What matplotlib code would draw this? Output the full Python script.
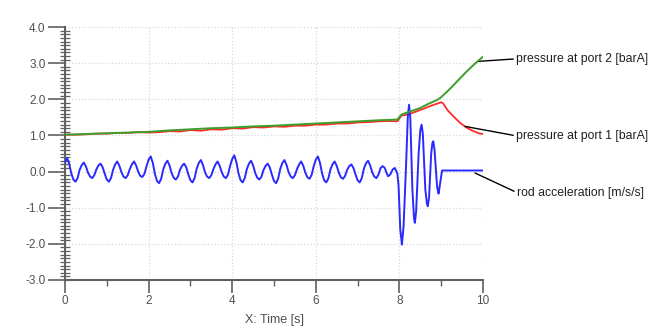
import matplotlib
matplotlib.use("Agg")
import numpy as np
import matplotlib.pyplot as plt
from matplotlib.ticker import MultipleLocator, FormatStrFormatter

plt.rcParams['font.family'] = ['Liberation Sans', 'DejaVu Sans']

# pressure at port 2 [barA]
p2_t = [0.0, 0.5, 1.0, 1.5, 2.0, 2.5, 3.0, 3.5, 4.0, 4.5, 5.0, 5.5, 6.0, 6.5,
        7.0, 7.5, 7.95, 8.05, 8.3, 8.5, 8.7, 8.9, 9.0, 9.2, 9.4, 9.6, 9.8, 10.0]
p2_v = [1.02, 1.04, 1.06, 1.08, 1.10, 1.14, 1.17, 1.20, 1.22, 1.25, 1.27, 1.30, 1.33, 1.36,
        1.39, 1.42, 1.44, 1.58, 1.68, 1.76, 1.88, 1.98, 2.06, 2.28, 2.52, 2.76, 2.98, 3.18]

# pressure at port 1 [barA]
p1_t = [0.0, 0.25, 0.5, 0.75, 1.0, 1.25, 1.5, 1.75, 2.0, 2.25, 2.5, 2.75, 3.0, 3.25,
        3.5, 3.75, 4.0, 4.25, 4.5, 4.75, 5.0, 5.25, 5.5, 5.75, 6.0, 6.25, 6.5, 6.75,
        7.0, 7.25, 7.5, 7.75, 7.95, 8.05, 8.2, 8.4, 8.6, 8.75, 8.9, 9.0, 9.05, 9.15,
        9.3, 9.45, 9.6, 9.75, 9.9, 10.0]
p1_v = [1.02, 1.02, 1.03, 1.05, 1.05, 1.07, 1.07, 1.09, 1.08, 1.09, 1.12, 1.11, 1.15, 1.13,
        1.17, 1.16, 1.20, 1.19, 1.23, 1.22, 1.25, 1.24, 1.27, 1.27, 1.30, 1.30, 1.33, 1.33,
        1.36, 1.37, 1.39, 1.40, 1.39, 1.55, 1.58, 1.66, 1.75, 1.82, 1.88, 1.92, 1.88, 1.70,
        1.52, 1.35, 1.22, 1.13, 1.06, 1.04]

# rod acceleration [m/s/s], sampled every 0.05 s up to 7.55 s
acc_steady = [
    0.25, 0.38, 0.22, -0.05, -0.22, -0.28, -0.18, 0.05,
    0.18, 0.25, 0.14, -0.03, -0.14, -0.18, -0.10, 0.06,
    0.17, 0.22, 0.12, -0.06, -0.22, -0.28, -0.18, 0.05,
    0.20, 0.28, 0.16, -0.02, -0.14, -0.18, -0.10, 0.07,
    0.20, 0.28, 0.17, 0.00, -0.12, -0.15, -0.06, 0.15,
    0.33, 0.42, 0.24, -0.06, -0.26, -0.32, -0.20, 0.06,
    0.22, 0.30, 0.17, -0.04, -0.17, -0.22, -0.14, 0.05,
    0.16, 0.22, 0.12, -0.08, -0.24, -0.30, -0.18, 0.08,
    0.24, 0.32, 0.18, -0.02, -0.14, -0.18, -0.10, 0.07,
    0.20, 0.28, 0.16, -0.02, -0.14, -0.18, -0.08, 0.16,
    0.35, 0.45, 0.26, -0.05, -0.24, -0.30, -0.18, 0.07,
    0.22, 0.30, 0.17, -0.04, -0.17, -0.22, -0.14, 0.05,
    0.16, 0.22, 0.11, -0.09, -0.26, -0.32, -0.19, 0.08,
    0.24, 0.32, 0.18, -0.02, -0.14, -0.18, -0.10, 0.07,
    0.20, 0.28, 0.16, -0.03, -0.16, -0.20, -0.09, 0.15,
    0.33, 0.42, 0.24, -0.05, -0.24, -0.30, -0.19, 0.06,
    0.20, 0.28, 0.16, -0.03, -0.16, -0.20, -0.12, 0.05,
    0.15, 0.20, 0.10, -0.08, -0.24, -0.30, -0.18, 0.08,
    0.23, 0.30, 0.17, -0.02, -0.14, -0.18, -0.08, 0.10,
]
acc_steady_t = np.round(np.arange(len(acc_steady)) * 0.05, 2)

# end of stroke: short ringing, then the rod stops
acc_end_t = [7.60, 7.65, 7.70, 7.73, 7.78, 7.84, 7.89, 7.95, 7.98, 8.02, 8.06, 8.10,
             8.16, 8.20, 8.23, 8.26, 8.31, 8.35, 8.37, 8.40, 8.46, 8.50, 8.53, 8.56,
             8.62, 8.66, 8.68, 8.71, 8.76, 8.79, 8.81, 8.84, 8.90, 8.93, 8.94, 8.97,
             9.02, 10.0]
acc_end_v = [0.15, 0.10, -0.06, -0.13, -0.08, 0.06, 0.10, -0.05, -0.40, -1.60, -2.02, -1.50,
             0.20, 1.50, 1.85, 1.50, -0.50, -1.30, -1.42, -1.10, 0.50, 1.15, 1.30, 1.05,
             -0.50, -0.90, -0.96, -0.70, 0.50, 0.80, 0.84, 0.60, -0.40, -0.60, -0.61, -0.35,
             0.03, 0.03]

labels = ['pressure at port 2 [barA]', 'pressure at port 1 [barA]', 'rod acceleration [m/s/s]']
label_from = [(9.88, 3.05), (9.57, 1.25), (9.81, -0.04)]
label_at = [(10.79, 3.12), (10.79, 0.99), (10.81, -0.58)]

fig = plt.figure(figsize=(6.69, 3.34), dpi=100)
ax = fig.add_axes([0.0972, 0.1617, 0.6248, 0.7573])

acc_t = list(acc_steady_t) + acc_end_t
acc_v = acc_steady + acc_end_v

ax.plot(p1_t, p1_v, color='#ff2a2a', lw=1.3, zorder=3)
ax.plot(p2_t, p2_v, color='#3c9e2a', lw=1.4, zorder=4)
ax.plot(acc_t, acc_v, color='#2a2aff', lw=1.4, zorder=3)

for txt, xy, xyt in zip(labels, label_from, label_at):
    ax.annotate(txt, xy=xy, xytext=xyt, textcoords='data', annotation_clip=False,
                ha='left', va='center', fontsize=8.8, color='#202020',
                arrowprops=dict(arrowstyle='-', color='black', lw=1.0,
                                shrinkA=0, shrinkB=0, relpos=(0, 0.5)))

ax.set_xlim(0, 10)
ax.set_ylim(-3, 4)
ax.xaxis.set_major_locator(MultipleLocator(2))
ax.xaxis.set_minor_locator(MultipleLocator(1))
ax.yaxis.set_major_locator(MultipleLocator(1))
ax.yaxis.set_minor_locator(MultipleLocator(0.1))
ax.yaxis.set_major_formatter(FormatStrFormatter('%.1f'))

ax.grid(True, which='major', color='#d8d8d8', linestyle=':', lw=0.9)
ax.set_axisbelow(True)

for s in ['top', 'right']:
    ax.spines[s].set_visible(False)
for s in ['left', 'bottom']:
    ax.spines[s].set_color('#606060')
    ax.spines[s].set_linewidth(1.5)

ax.tick_params(axis='y', which='major', direction='out', length=12, width=1.2,
               color='#606060', labelsize=8.5, labelcolor='#505050', pad=2)
ax.tick_params(axis='y', which='minor', direction='inout', length=7, width=0.9, color='#606060')
ax.tick_params(axis='x', which='major', direction='out', length=9, width=1.2,
               color='#606060', labelsize=8.5, labelcolor='#505050', pad=2)
ax.tick_params(axis='x', which='minor', direction='out', length=4, width=1.0, color='#606060')

ax.set_xlabel('X: Time [s]', fontsize=9, color='#505050', labelpad=5)

fig.savefig('out.png', dpi=100)
